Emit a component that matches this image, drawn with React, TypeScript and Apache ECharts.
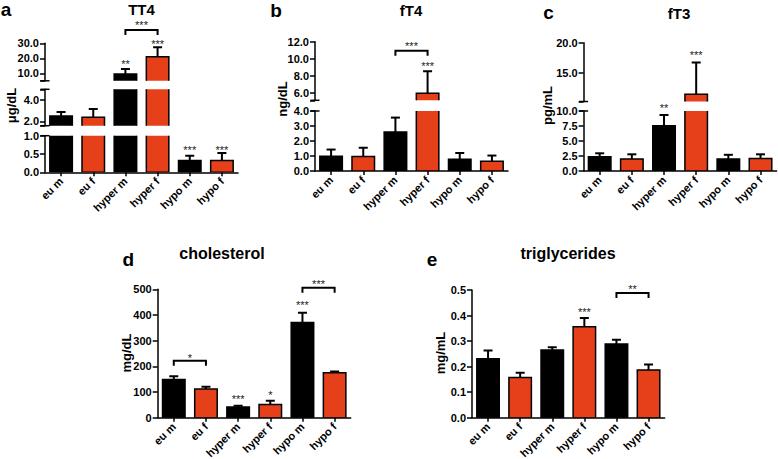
import React, { useEffect, useRef } from 'react';
import * as echarts from 'echarts';

const FONT = '"Liberation Sans", Arial, Helvetica, sans-serif';
const BLACK = '#000000';
const ORANGE = '#e5401a';

const categories = ['eu m', 'eu f', 'hyper m', 'hyper f', 'hypo m', 'hypo f'];

// means and SEM
const tt4Mean = [2.5, 2.4, 9.5, 21.1, 0.32, 0.32];
const tt4Sem = [0.37, 0.77, 3.4, 6.2, 0.13, 0.21];
const ft4Mean = [0.98, 0.97, 2.6, 5.93, 0.78, 0.65];
const ft4Sem = [0.45, 0.58, 0.96, 2.6, 0.42, 0.38];
const ft3Mean = [2.38, 2.0, 7.55, 11.4, 2.0, 2.1];
const ft3Sem = [0.57, 0.78, 1.78, 5.3, 0.7, 0.68];
const cholMean = [149, 112, 42, 51, 371, 175];
const cholSem = [12, 9, 5, 15, 38, 5];
const trigMean = [0.231, 0.157, 0.265, 0.356, 0.289, 0.187];
const trigSem = [0.032, 0.019, 0.011, 0.034, 0.016, 0.021];

// tick values per axis segment
const tt4TicksLow = [0, 0.5, 1.0];
const tt4TicksMid = [2.0, 4.0];
const tt4TicksHigh = [10.0, 20.0, 30.0];
const ft4TicksLow = [0, 1.0, 2.0, 3.0, 4.0];
const ft4TicksHigh = [6.0, 8.0, 10.0, 12.0];
const ft3TicksLow = [0, 2.5, 5.0, 7.5, 10.0];
const ft3TicksHigh = [15.0, 20.0];
const cholTicks = [0, 100, 200, 300, 400, 500];
const trigTicks = [0, 0.1, 0.2, 0.3, 0.4, 0.5];

// significance marks: [category, value, label, segment]
const tt4Stars: [number, number, string, number][] = [[2, 17.7, '**', 2], [3, 31.1, '***', 2], [4, 0.656, '***', 0], [5, 0.656, '***', 0]];
const ft4Stars: [number, number, string, number][] = [[3, 9.34, '***', 1]];
const ft3Stars: [number, number, string, number][] = [[2, 10.83, '**', 0], [3, 18.23, '***', 1]];
const cholStars: [number, number, string, number][] = [[2, 82, '***', 0], [3, 95, '*', 0], [4, 445, '***', 0]];
const trigStars: [number, number, string, number][] = [[3, 0.422, '***', 0]];
// brackets: [from, to, line value, label value, label, segment]
const tt4Brackets: [number, number, number, number, string, number][] = [[2, 3, 38.9, 43.3, '***', 2]];
const ft4Brackets: [number, number, number, number, string, number][] = [[2, 3, 10.94, 11.7, '***', 1]];
const ft3Brackets: [number, number, number, number, string, number][] = [];
const cholBrackets: [number, number, number, number, string, number][] = [[0, 1, 222, 241, '*', 0], [4, 5, 506, 529, '***', 0]];
const trigBrackets: [number, number, number, number, string, number][] = [[4, 5, 0.488, 0.511, '**', 0]];

type Seg = { min: number; max: number; top: number; height: number; ticks: number[]; labels: number[]; dec: number };
type Panel = {
  left: number; width: number;
  mean: number[]; sem: number[]; segs: Seg[];
  stars: [number, number, string, number][];
  brackets: [number, number, number, number, string, number][];
};

function buildOption() {
  const panels: Panel[] = [
    {
      left: 45, width: 193, mean: tt4Mean, sem: tt4Sem, stars: tt4Stars, brackets: tt4Brackets,
      segs: [
        { min: 0, max: 1, top: 135.7, height: 36.6, ticks: tt4TicksLow, labels: tt4TicksLow, dec: 1 },
        { min: 1.6, max: 5, top: 89.3, height: 36.4, ticks: [1.6, ...tt4TicksMid, 5], labels: tt4TicksMid, dec: 1 },
        { min: 5, max: 30, top: 43.3, height: 37.5, ticks: [5, ...tt4TicksHigh], labels: tt4TicksHigh, dec: 1 },
      ],
    },
    {
      left: 315, width: 193, mean: ft4Mean, sem: ft4Sem, stars: ft4Stars, brackets: ft4Brackets,
      segs: [
        { min: 0, max: 4, top: 111, height: 60, ticks: ft4TicksLow, labels: ft4TicksLow, dec: 1 },
        { min: 5.1, max: 12, top: 41.7, height: 58.6, ticks: [5.1, ...ft4TicksHigh], labels: ft4TicksHigh, dec: 1 },
      ],
    },
    {
      left: 583.6, width: 193, mean: ft3Mean, sem: ft3Sem, stars: ft3Stars, brackets: ft3Brackets,
      segs: [
        { min: 0, max: 10, top: 111, height: 60, ticks: ft3TicksLow, labels: ft3TicksLow, dec: 1 },
        { min: 10.2, max: 20, top: 42.7, height: 58.8, ticks: [10.2, ...ft3TicksHigh], labels: ft3TicksHigh, dec: 1 },
      ],
    },
    {
      left: 157.7, width: 193, mean: cholMean, sem: cholSem, stars: cholStars, brackets: cholBrackets,
      segs: [{ min: 0, max: 500, top: 289.3, height: 128.4, ticks: cholTicks, labels: cholTicks, dec: 0 }],
    },
    {
      left: 472, width: 192.6, mean: trigMean, sem: trigSem, stars: trigStars, brackets: trigBrackets,
      segs: [{ min: 0, max: 0.5, top: 290, height: 127.7, ticks: trigTicks, labels: trigTicks, dec: 1 }],
    },
  ];

  const grid: any[] = [];
  const xAxis: any[] = [];
  const yAxis: any[] = [];
  const series: any[] = [];
  const axisLineStyle = { color: BLACK, width: 1.5 };
  const starStyle = (text: string) => ({ text, fill: '#222', font: `11px ${FONT}`, textAlign: 'center', align: 'center', textVerticalAlign: 'middle', verticalAlign: 'middle' });

  panels.forEach((p) => {
    const nSeg = p.segs.length;
    p.segs.forEach((s, si) => {
      const gi = grid.length;
      grid.push({ left: p.left, top: s.top, width: p.width, height: s.height, containLabel: false, outerBoundsMode: 'none' });
      xAxis.push({
        gridIndex: gi, type: 'category', data: categories, show: si === 0, boundaryGap: true,
        axisLine: { show: true, lineStyle: axisLineStyle },
        axisTick: { show: true, alignWithLabel: true, length: 4, lineStyle: axisLineStyle },
        axisLabel: { interval: 0, rotate: 45, margin: 7, color: BLACK, fontWeight: 'bold', fontSize: 11, fontFamily: FONT },
        splitLine: { show: false },
      });
      yAxis.push({
        gridIndex: gi, type: 'value', min: s.min, max: s.max,
        splitLine: { show: false },
        axisLine: { show: true, lineStyle: axisLineStyle },
        axisTick: { show: true, length: 5, lineStyle: axisLineStyle, customValues: s.ticks },
        axisLabel: {
          customValues: s.labels, margin: 6, color: BLACK, fontWeight: 'bold', fontSize: 11, fontFamily: FONT,
          formatter: (v: number) => Number(v).toFixed(s.dec),
        },
      });
      series.push({
        type: 'custom', xAxisIndex: gi, yAxisIndex: gi, clip: true, z: 2,
        encode: { x: 0, y: 1 },
        data: p.mean.map((m, i) => [i, m, p.sem[i]]),
        renderItem: (params: any, api: any) => {
          const i = api.value(0);
          const m = api.value(1);
          const e = api.value(2);
          const base = api.coord([i, 0]);
          const top = api.coord([i, m]);
          const cap = api.coord([i, m + e]);
          const cw = api.size([1, 0])[0];
          const bw = cw * 0.7;
          const capW = bw * 0.4;
          return {
            type: 'group',
            children: [
              { type: 'rect', shape: { x: top[0] - bw / 2, y: top[1], width: bw, height: base[1] - top[1] }, style: { fill: i % 2 === 0 ? BLACK : ORANGE, stroke: BLACK, lineWidth: 1.5 } },
              { type: 'line', shape: { x1: top[0], y1: top[1], x2: top[0], y2: cap[1] }, style: { stroke: BLACK, lineWidth: 2 } },
              { type: 'line', shape: { x1: top[0] - capW / 2, y1: cap[1], x2: top[0] + capW / 2, y2: cap[1] }, style: { stroke: BLACK, lineWidth: 2 } },
            ],
          };
        },
      });
      // axis-break end caps
      if (nSeg > 1) {
        const ends: number[] = [];
        if (si > 0) ends.push(s.min);
        if (si < nSeg - 1) ends.push(s.max);
        series.push({
          type: 'custom', xAxisIndex: gi, yAxisIndex: gi, clip: false, z: 4,
          encode: { x: 0, y: 1 },
          data: ends.map((v) => [0, v]),
          renderItem: (params: any, api: any) => {
            const y = api.coord([0, api.value(1)])[1];
            const x = params.coordSys.x;
            return { type: 'line', shape: { x1: x - 4.5, y1: y, x2: x + 4.5, y2: y }, style: { stroke: BLACK, lineWidth: 1.5 } };
          },
        });
      }
      const stars = p.stars.filter((st) => st[3] === si);
      if (stars.length) {
        series.push({
          type: 'custom', xAxisIndex: gi, yAxisIndex: gi, clip: false, z: 3,
          encode: { x: 0, y: 1 },
          data: stars.map((st) => [st[0], st[1]]),
          renderItem: (params: any, api: any) => {
            const st = stars[params.dataIndex];
            const pt = api.coord([st[0], st[1]]);
            return { type: 'text', x: pt[0], y: pt[1] + 2, style: starStyle(st[2]) };
          },
        });
      }
      const brs = p.brackets.filter((b) => b[5] === si);
      if (brs.length) {
        series.push({
          type: 'custom', xAxisIndex: gi, yAxisIndex: gi, clip: false, z: 3,
          encode: { x: 0, y: 1 },
          data: brs.map((b) => [b[0], b[2]]),
          renderItem: (params: any, api: any) => {
            const b = brs[params.dataIndex];
            const p1 = api.coord([b[0], b[2]]);
            const p2 = api.coord([b[1], b[2]]);
            const t = api.coord([b[0], b[3]]);
            return {
              type: 'group',
              children: [
                { type: 'polyline', shape: { points: [[p1[0], p1[1] + 5], [p1[0], p1[1]], [p2[0], p2[1]], [p2[0], p2[1] + 5]] }, style: { stroke: BLACK, lineWidth: 2, fill: 'none' } },
                { type: 'text', x: (p1[0] + p2[0]) / 2, y: t[1] + 2, style: starStyle(b[4]) },
              ],
            };
          },
        });
      }
    });
  });

  const txt = (text: string, x: number, y: number, size: number, rot = 0) => ({
    type: 'text', x, y, rotation: rot,
    style: { text, fill: BLACK, font: `bold ${size}px ${FONT}`, textAlign: 'center', align: 'center', textVerticalAlign: 'middle', verticalAlign: 'middle' },
  });
  const R = Math.PI / 2;
  const graphic = [
    txt('a', 6, 9, 19), txt('b', 276, 10.5, 19), txt('c', 548.5, 12, 19), txt('d', 128.3, 259, 19), txt('e', 432, 259, 19),
    txt('TT4', 141.5, 9, 15), txt('fT4', 411, 10, 15), txt('fT3', 679, 13.5, 15),
    txt('cholesterol', 222, 253, 16), txt('triglycerides', 568, 253, 16),
    txt('μg/dL', 11, 105.5, 13, R), txt('ng/dL', 282.5, 99, 13, R), txt('pg/mL', 547.5, 105.5, 13, R),
    txt('mg/dL', 126.7, 353, 13, R), txt('mg/mL', 440.5, 353, 13, R),
  ];

  return { animation: false, backgroundColor: '#ffffff', grid, xAxis, yAxis, series, graphic };
}

export default function App() {
  const ref = useRef<HTMLDivElement>(null);
  useEffect(() => {
    const chart = echarts.init(ref.current!, undefined, { renderer: 'svg' });
    chart.setOption(buildOption() as any);
    return () => chart.dispose();
  }, []);
  return <div ref={ref} style={{ position: 'absolute', left: 0, top: 0, width: 778, height: 459, background: '#fff' }} />;
}
